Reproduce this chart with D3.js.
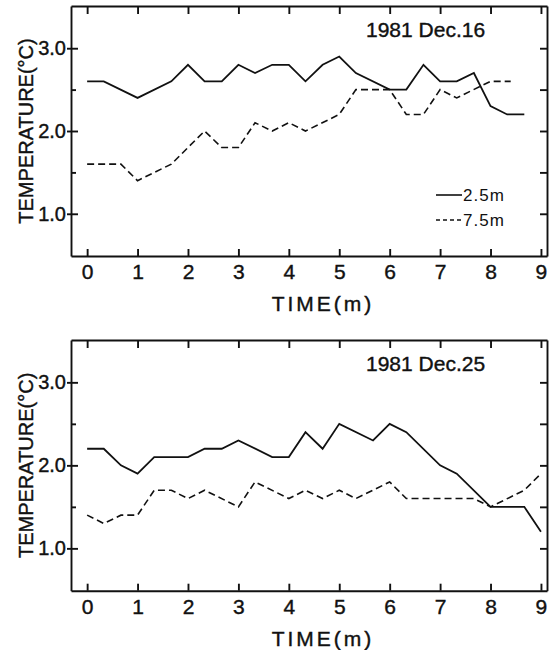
<!DOCTYPE html>
<html>
<head>
<meta charset="utf-8">
<script src="https://cdn.jsdelivr.net/npm/d3@7"></script>
<style>
  body { margin: 0; background: #fff; }
  svg { display: block; font-family: "Liberation Sans", Arial, sans-serif; }
  .axis path, .axis line { stroke: #111; stroke-width: 1.9; }
  .axis text { fill: #111; }
</style>
</head>
<body>
<div id="chart"></div>
<script>
// 1981 Dec.16
var time16_25 = [0, 0.33, 1, 1.67, 2, 2.33, 2.67, 3, 3.33, 3.67, 4, 4.33, 4.67, 5, 5.33, 6, 6.33, 6.67, 7, 7.33, 7.67, 8, 8.33, 8.67];
var temp16_25 = [2.6, 2.6, 2.4, 2.6, 2.8, 2.6, 2.6, 2.8, 2.7, 2.8, 2.8, 2.6, 2.8, 2.9, 2.7, 2.5, 2.5, 2.8, 2.6, 2.6, 2.7, 2.3, 2.2, 2.2];
var time16_75 = [0, 0.67, 1, 1.67, 2.33, 2.67, 3, 3.33, 3.67, 4, 4.33, 5, 5.33, 6, 6.33, 6.67, 7, 7.33, 8, 8.4];
var temp16_75 = [1.6, 1.6, 1.4, 1.6, 2.0, 1.8, 1.8, 2.1, 2.0, 2.1, 2.0, 2.2, 2.5, 2.5, 2.2, 2.2, 2.5, 2.4, 2.6, 2.6];

// 1981 Dec.25
var time25_25 = [0, 0.33, 0.67, 1, 1.33, 2, 2.33, 2.67, 3, 3.67, 4, 4.33, 4.67, 5, 5.67, 6, 6.33, 7, 7.33, 8, 8.67, 9];
var temp25_25 = [2.2, 2.2, 2.0, 1.9, 2.1, 2.1, 2.2, 2.2, 2.3, 2.1, 2.1, 2.4, 2.2, 2.5, 2.3, 2.5, 2.4, 2.0, 1.9, 1.5, 1.5, 1.2];
var time25_75 = [0, 0.33, 0.67, 1, 1.33, 1.67, 2, 2.33, 3, 3.33, 4, 4.33, 4.67, 5, 5.33, 6, 6.33, 7.67, 8, 8.67, 9];
var temp25_75 = [1.4, 1.3, 1.4, 1.4, 1.7, 1.7, 1.6, 1.7, 1.5, 1.8, 1.6, 1.7, 1.6, 1.7, 1.6, 1.8, 1.6, 1.6, 1.5, 1.7, 1.9];

var xTicks = [0, 1, 2, 3, 4, 5, 6, 7, 8, 9];
var yMajor = [1.0, 2.0, 3.0];
var yMinor = [1.5, 2.5];
var seriesNames = ["2.5m", "7.5m"];

var svg = d3.select("#chart").append("svg")
    .attr("width", 552)
    .attr("height", 650);

function zip(ts, vs) {
    return ts.map(function(t, i) { return { t: t, v: vs[i] }; });
}

function drawPanel(top, bottom, title, solid, dashed, showLegend) {
    var x = d3.scaleLinear().domain([-0.32, 9.12]).range([71, 547]);
    var y = d3.scaleLinear().domain([0.49, 3.51]).range([bottom, top]);
    var g = svg.append("g");

    // bottom axis, ticks pointing in
    var xb = g.append("g").attr("class", "axis")
        .attr("transform", "translate(0," + bottom + ")")
        .call(d3.axisBottom(x).tickValues(xTicks).tickSize(-7).tickSizeOuter(0).tickPadding(8)
            .tickFormat(d3.format("d")));
    xb.selectAll("text").style("font-size", "21px").style("stroke", "#111").style("stroke-width", 0.4);

    g.append("g").attr("class", "axis")
        .attr("transform", "translate(0," + top + ")")
        .call(d3.axisTop(x).tickValues(xTicks).tickSize(-8).tickSizeOuter(0).tickFormat(""));

    var yl = g.append("g").attr("class", "axis")
        .attr("transform", "translate(71,0)")
        .call(d3.axisLeft(y).tickValues(yMajor).tickSize(-7).tickSizeOuter(0).tickPadding(5)
            .tickFormat(d3.format(".1f")));
    yl.selectAll(".tick line").attr("x1", -4);
    yl.selectAll("text").style("font-size", "20px").style("stroke", "#111").style("stroke-width", 0.4);

    g.append("g").attr("class", "axis")
        .attr("transform", "translate(71,0)")
        .call(d3.axisLeft(y).tickValues(yMinor).tickSize(-5).tickSizeOuter(0).tickFormat(""))
        .select(".domain").remove();

    g.append("g").attr("class", "axis")
        .attr("transform", "translate(547,0)")
        .call(d3.axisRight(y).tickValues(yMajor.concat(yMinor)).tickSize(-7).tickSizeOuter(0).tickFormat(""));

    var line = d3.line()
        .x(function(d) { return x(d.t); })
        .y(function(d) { return y(d.v); });

    g.append("path")
        .datum(solid)
        .attr("d", line)
        .attr("fill", "none")
        .attr("stroke", "#111")
        .attr("stroke-width", 1.8);

    g.append("path")
        .datum(dashed)
        .attr("d", line)
        .attr("fill", "none")
        .attr("stroke", "#111")
        .attr("stroke-width", 1.6)
        .attr("stroke-dasharray", "7,4");

    g.append("text")
        .attr("x", 366)
        .attr("y", top + 31)
        .style("font-size", "21px")
        .style("stroke", "#111").style("stroke-width", 0.4)
        .attr("fill", "#111")
        .text(title);

    g.append("text")
        .attr("transform", "translate(33," + ((top + bottom) / 2) + ") rotate(-90)")
        .attr("text-anchor", "middle")
        .style("font-size", "20px")
        .style("stroke", "#111").style("stroke-width", 0.4)
        .attr("fill", "#111")
        .text("TEMPERATURE(°C)");

    g.append("text")
        .attr("x", 323)
        .attr("y", bottom + 55)
        .attr("text-anchor", "middle")
        .style("font-size", "21px")
        .style("letter-spacing", "3px")
        .style("stroke", "#111").style("stroke-width", 0.4)
        .attr("fill", "#111")
        .text("TIME(m)");

    if (showLegend) {
        var lg = g.append("g");
        lg.append("line").attr("x1", 436).attr("x2", 462).attr("y1", 195).attr("y2", 195)
            .attr("stroke", "#111").attr("stroke-width", 1.6);
        lg.append("line").attr("x1", 436).attr("x2", 461).attr("y1", 220).attr("y2", 220)
            .attr("stroke", "#111").attr("stroke-width", 1.5).attr("stroke-dasharray", "4,3");
        lg.append("text").attr("x", 463).attr("y", 201).style("font-size", "17px")
            .style("letter-spacing", "1px")
            .attr("fill", "#111").text(seriesNames[0]);
        lg.append("text").attr("x", 463).attr("y", 226).style("font-size", "17px")
            .style("letter-spacing", "1px")
            .attr("fill", "#111").text(seriesNames[1]);
    }
}

drawPanel(6, 256, "1981 Dec.16", zip(time16_25, temp16_25), zip(time16_75, temp16_75), true);
drawPanel(340, 590.7, "1981 Dec.25", zip(time25_25, temp25_25), zip(time25_75, temp25_75), false);
</script>
</body>
</html>
